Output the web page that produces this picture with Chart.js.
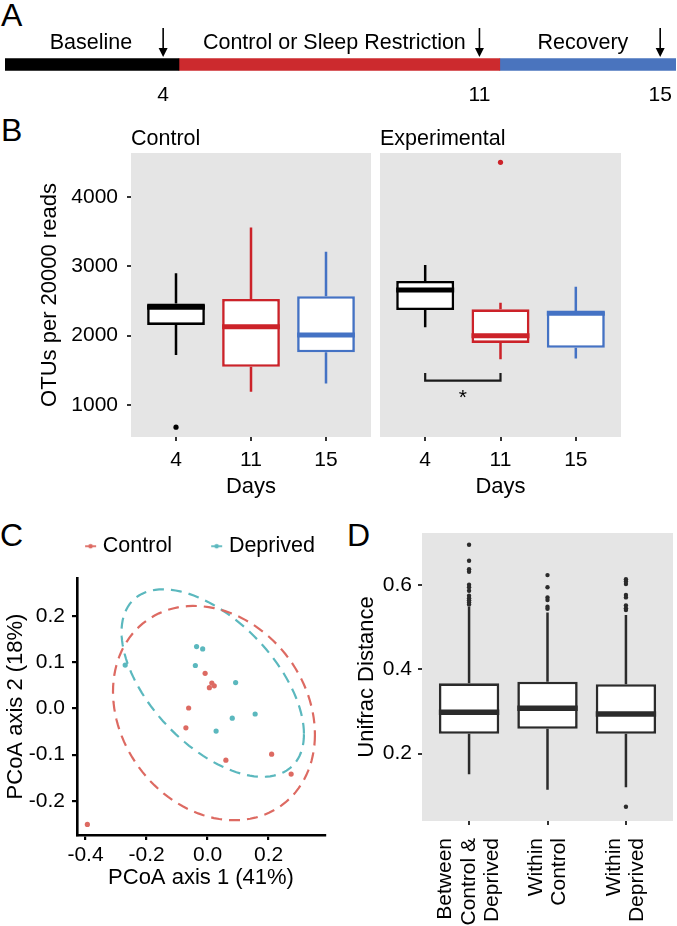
<!DOCTYPE html>
<html>
<head>
<meta charset="utf-8">
<title>Sleep restriction and gut microbiota</title>
<script src="https://cdn.jsdelivr.net/npm/chart.js@4.4.1/dist/chart.umd.min.js"></script>
<style>
  html, body { margin:0; padding:0; background:#ffffff; }
  body { width:677px; height:926px; position:relative; overflow:hidden; font-family:"Liberation Sans", Arial, Helvetica, sans-serif; }
  canvas { position:absolute; }
  .panel-letter { position:absolute; font-size:32px; line-height:32px; color:#000; }
</style>
</head>
<body>
<div class="panel-letter" style="left:1px; top:-1px;">A</div>
<div class="panel-letter" style="left:1px; top:114px;">B</div>
<div class="panel-letter" style="left:0px; top:519px;">C</div>
<div class="panel-letter" style="left:347px; top:519px;">D</div>
<canvas id="chartA" width="677" height="110" style="left:0px; top:0px;"></canvas>
<canvas id="chartB1" width="380" height="400" style="left:0px; top:110px;"></canvas>
<canvas id="chartB2" width="280" height="400" style="left:370px; top:110px;"></canvas>
<canvas id="chartC" width="345" height="410" style="left:0px; top:500px;"></canvas>
<canvas id="chartD" width="337" height="416" style="left:340px; top:510px;"></canvas>
<script>
// ---------------- DATA ----------------
// Panel A: study timeline (days)
const phaseNames  = ['Baseline', 'Control or Sleep Restriction', 'Recovery'];
const phaseStart  = [0.5, 4.35, 11.45];
const phaseEnd    = [4.35, 11.45, 15.35];
const sampleDays  = [4, 11, 15];

// Panel B: OTUs per 20000 reads, by day
const dayLabels = ['4', '11', '15'];
const ctrlMin = [1720, 1190, 1310];
const ctrlQ1  = [2155, 1550, 1760];
const ctrlMed = [2410, 2130, 2010];
const ctrlQ3  = [2465, 2530, 2570];
const ctrlMax = [2900, 3560, 3210];
const ctrlOutDay = [1];
const ctrlOutVal = [680];
const expMin = [2120, 1660, 1670];
const expQ1  = [2370, 1895, 1825];
const expMed = [2660, 2000, 2325];
const expQ3  = [2790, 2380, 2345];
const expMax = [3020, 2475, 2705];
const expOutDay = [2];
const expOutVal = [4500];
const otuTicks = [1000, 2000, 3000, 4000];
const sigPair = [1, 2];
const sigLevel = 1350;
const sigTickTop = 1460;

// Panel C: PCoA coordinates
const controlX  = [-0.008, 0.014, 0.022, 0.006, -0.062, -0.071, 0.060, 0.210, 0.274, -0.394];
const controlY  = [0.076, 0.055, 0.049, 0.045, 0.001, -0.042, -0.112, -0.099, -0.142, -0.251];
const deprivedX = [-0.270, -0.036, -0.016, -0.040, 0.092, 0.028, 0.081, 0.156];
const deprivedY = [0.094, 0.134, 0.129, 0.093, 0.056, -0.049, -0.021, -0.012];
// ellipse: centre x, centre y, half-width, half-height, correlation
const controlEllipse  = [0.021, -0.010, 0.331, 0.232, -0.20];
const deprivedEllipse = [0.017, 0.055, 0.299, 0.203, -0.545];
const pcoaXTicks = [-0.4, -0.2, 0.0, 0.2];
const pcoaYTicks = [-0.2, -0.1, 0.0, 0.1, 0.2];

// Panel D: Unifrac distances
const groupLabels = [['Between', 'Control &', 'Deprived'], ['Within', 'Control'], ['Within', 'Deprived']];
const uniMin = [0.151, 0.114, 0.120];
const uniQ1  = [0.247, 0.259, 0.247];
const uniMed = [0.298, 0.308, 0.294];
const uniQ3  = [0.367, 0.371, 0.365];
const uniMax = [0.549, 0.535, 0.529];
const betweenOut        = [0.696, 0.658, 0.638, 0.632, 0.601, 0.595, 0.587, 0.575, 0.569, 0.564, 0.559, 0.554];
const withinControlOut  = [0.624, 0.595, 0.571, 0.565, 0.549, 0.544];
const withinDeprivedOut = [0.614, 0.609, 0.603, 0.577, 0.571, 0.552, 0.545, 0.541, 0.074];
const unifracTicks = [0.2, 0.4, 0.6];

// ---------------- STYLE ----------------
const FONT = '"Liberation Sans", Arial, Helvetica, sans-serif';
const phaseColors = ['#000000', '#CC2A2E', '#4A74BE'];
const dayColors = ['#000000', '#CC2229', '#4472C4'];
const RED = '#DD6A62';
const TEAL = '#5BB8BE';
const DARK = '#2B2B2B';
const PANEL_BG = '#E5E5E5';

Chart.defaults.font.family = FONT;
Chart.defaults.color = '#000000';
Chart.defaults.animation = false;
Chart.defaults.plugins.legend.display = false;
Chart.defaults.plugins.tooltip.enabled = false;

const panelBg = {
  id: 'panelBg',
  beforeDatasetsDraw(chart, args, opts) {
    if (!opts || !opts.color) return;
    const { ctx, chartArea: a } = chart;
    ctx.save();
    ctx.fillStyle = opts.color;
    ctx.fillRect(a.left, a.top, a.right - a.left, a.bottom - a.top);
    ctx.restore();
  }
};
Chart.register(panelBg);

function whiskerPlugin(st, colors, lw, medLw) {
  return {
    id: 'whiskers',
    afterDatasetsDraw(chart) {
      const { ctx } = chart;
      const ys = chart.scales.y;
      const bars = chart.getDatasetMeta(0).data;
      ctx.save();
      ctx.lineCap = 'butt';
      bars.forEach((bar, i) => {
        const c = colors[i];
        const px = bar.x, hw = bar.width / 2;
        ctx.strokeStyle = c;
        ctx.lineWidth = lw;
        ctx.beginPath();
        ctx.moveTo(px, ys.getPixelForValue(st.q3[i])); ctx.lineTo(px, ys.getPixelForValue(st.max[i]));
        ctx.moveTo(px, ys.getPixelForValue(st.q1[i])); ctx.lineTo(px, ys.getPixelForValue(st.min[i]));
        ctx.stroke();
        const ym = ys.getPixelForValue(st.med[i]);
        ctx.lineWidth = medLw;
        ctx.beginPath(); ctx.moveTo(px - hw, ym); ctx.lineTo(px + hw, ym); ctx.stroke();
      });
      ctx.restore();
    }
  };
}

function tickGrid(len, width, color) {
  return { display: true, drawOnChartArea: false, drawTicks: true, tickLength: len, tickWidth: width, lineWidth: width, tickColor: color, color: color, offset: false };
}

// ---------------- PANEL A ----------------
const timelineMarks = {
  id: 'timelineMarks',
  afterDatasetsDraw(chart) {
    const { ctx } = chart;
    const xs = chart.scales.x;
    const bar = chart.getDatasetMeta(0).data[0];
    const barTop = bar.y - bar.height / 2;
    ctx.save();
    ctx.strokeStyle = '#000'; ctx.fillStyle = '#000'; ctx.lineWidth = 1.6;
    sampleDays.forEach(d => {
      const x = xs.getPixelForValue(d);
      const tip = barTop - 1.5, top = tip - 29;
      ctx.beginPath(); ctx.moveTo(x, top); ctx.lineTo(x, tip - 6); ctx.stroke();
      ctx.beginPath(); ctx.moveTo(x - 4.5, tip - 9); ctx.lineTo(x + 4.5, tip - 9); ctx.lineTo(x, tip); ctx.closePath(); ctx.fill();
    });
    ctx.font = '21.5px ' + FONT;
    ctx.textAlign = 'center'; ctx.textBaseline = 'middle';
    phaseNames.forEach((n, i) => {
      const x = xs.getPixelForValue((phaseStart[i] + phaseEnd[i]) / 2);
      ctx.fillText(n, x - (i > 0 ? 5 : 1), barTop - 15.5);
    });
    ctx.restore();
  }
};

new Chart(document.getElementById('chartA'), {
  type: 'bar',
  data: {
    labels: ['Timeline'],
    datasets: phaseNames.map((n, i) => ({
      label: n, data: [[phaseStart[i], phaseEnd[i]]],
      backgroundColor: phaseColors[i], borderWidth: 0, barThickness: 12, grouped: false
    }))
  },
  options: {
    responsive: false, indexAxis: 'y',
    layout: { padding: { left: 5, right: 1, top: 50, bottom: 0 } },
    scales: {
      x: {
        type: 'linear', min: phaseStart[0], max: phaseEnd[phaseEnd.length - 1],
        afterBuildTicks: s => { s.ticks = sampleDays.map(v => ({ value: v })); },
        ticks: { font: { size: 21 }, padding: 3.5, color: '#000', maxRotation: 0, autoSkip: false, callback: v => String(v) },
        grid: { display: false, drawTicks: false }, border: { display: false },
        afterFit: s => { s.height = 31; }
      },
      y: { display: false }
    }
  },
  plugins: [timelineMarks]
});

// ---------------- PANEL B ----------------
function facetChart(id, st, outDay, outVal, title, showY, padding, extraPlugins) {
  const yAxis = showY ? {
    type: 'linear', min: 538, max: 4635, beginAtZero: false,
    afterBuildTicks: s => { s.ticks = otuTicks.map(v => ({ value: v })); },
    ticks: { font: { size: 21 }, padding: 9, color: '#000', callback: v => String(v) },
    grid: tickGrid(4, 2, '#333333'), border: { display: false },
    title: { display: true, text: 'OTUs per 20000 reads', font: { size: 22 }, color: '#000', padding: { top: 36.8, bottom: 0 } },
    afterFit: s => { s.width = 131; }
  } : { type: 'linear', min: 538, max: 4635, beginAtZero: false, display: false };
  return new Chart(document.getElementById(id), {
    type: 'bar',
    data: {
      datasets: [
        {
          type: 'bar', label: 'box',
          data: st.q1.map((q, i) => ({ x: i + 1, y: [q, st.q3[i]] })),
          backgroundColor: '#ffffff', borderColor: dayColors, borderWidth: 2.6, borderSkipped: false,
          categoryPercentage: 1, barPercentage: 0.77
        },
        {
          type: 'scatter', label: 'outliers',
          data: outDay.map((d, i) => ({ x: d, y: outVal[i] })),
          pointRadius: 2.6, pointBorderWidth: 0,
          pointBackgroundColor: outDay.map(d => dayColors[d - 1])
        }
      ]
    },
    options: {
      responsive: false,
      layout: { padding: padding },
      plugins: {
        panelBg: { color: PANEL_BG },
        title: { display: true, text: title, align: 'start', fullSize: false, color: '#000',
                 font: { size: 21.5, weight: 'normal' }, padding: { top: 16.6, bottom: 0.6 } }
      },
      scales: {
        x: {
          type: 'linear', min: 0.4, max: 3.6, offset: false,
          afterBuildTicks: s => { s.ticks = dayLabels.map((_, i) => ({ value: i + 1 })); },
          ticks: { font: { size: 21 }, padding: 6.4, color: '#000', maxRotation: 0, autoSkip: false,
                   callback: v => dayLabels[Math.round(v) - 1] },
          grid: tickGrid(4, 2, '#333333'), border: { display: false },
          title: { display: true, text: 'Days', font: { size: 22 }, color: '#000', padding: { top: 0, bottom: 9.8 } },
          afterFit: s => { s.height = 73; }
        },
        y: yAxis
      }
    },
    plugins: [whiskerPlugin(st, dayColors, 2.5, 5)].concat(extraPlugins || [])
  });
}

facetChart('chartB1',
  { min: ctrlMin, q1: ctrlQ1, med: ctrlMed, q3: ctrlQ3, max: ctrlMax },
  ctrlOutDay, ctrlOutVal, 'Control', true, { left: 0, right: 9, top: 0, bottom: 0 });

const sigBracket = {
  id: 'sigBracket',
  afterDatasetsDraw(chart) {
    const { ctx } = chart;
    const xs = chart.scales.x, ys = chart.scales.y;
    const x1 = xs.getPixelForValue(sigPair[0]), x2 = xs.getPixelForValue(sigPair[1]);
    const yl = ys.getPixelForValue(sigLevel), yt = ys.getPixelForValue(sigTickTop);
    ctx.save();
    ctx.strokeStyle = '#1A1A1A'; ctx.lineWidth = 2.2; ctx.lineJoin = 'miter';
    ctx.beginPath(); ctx.moveTo(x1, yt); ctx.lineTo(x1, yl); ctx.lineTo(x2, yl); ctx.lineTo(x2, yt); ctx.stroke();
    ctx.fillStyle = '#000'; ctx.font = '21px ' + FONT; ctx.textAlign = 'center'; ctx.textBaseline = 'middle';
    ctx.fillText('*', (x1 + x2) / 2, yl + 17);
    ctx.restore();
  }
};

facetChart('chartB2',
  { min: expMin, q1: expQ1, med: expMed, q3: expQ3, max: expMax },
  expOutDay, expOutVal, 'Experimental', false, { left: 10, right: 29, top: 0, bottom: 0 }, [sigBracket]);

// ---------------- PANEL C ----------------
function ellipsePoints(e) {
  const [cx, cy, hw, hh, rho] = e;
  const phi = Math.acos(rho);
  const pts = [];
  for (let k = 0; k <= 120; k++) {
    const t = k / 120 * 2 * Math.PI;
    pts.push({ x: cx + hw * Math.cos(t), y: cy + hh * Math.cos(t + phi) });
  }
  return pts;
}
function makeKey(color) {
  const c = document.createElement('canvas');
  c.width = 29; c.height = 8;
  const g = c.getContext('2d');
  g.strokeStyle = color; g.lineWidth = 1.8;
  g.beginPath(); g.moveTo(14, 4); g.lineTo(25, 4); g.stroke();
  g.fillStyle = color; g.beginPath(); g.arc(19.5, 4, 2.3, 0, Math.PI * 2); g.fill();
  return c;
}
// keep the legend on one row above the panel and leave ggplot's gap below it
const legendTweak = {
  id: 'legendTweak',
  beforeLayout(chart) {
    const lg = chart.legend;
    if (lg && !lg.$tweaked) {
      const fit = lg.fit.bind(lg);
      lg.fit = function () { this.maxWidth = Math.max(this.maxWidth, 600); fit(); this.height = 75.5; };
      lg.$tweaked = true;
    }
  },
  afterLayout(chart) {
    const lg = chart.legend;
    if (lg) { lg.left -= 155; lg.right += 147; }
  }
};
const keyControl = makeKey(RED), keyDeprived = makeKey(TEAL);

new Chart(document.getElementById('chartC'), {
  type: 'scatter',
  data: {
    datasets: [
      { label: 'Control', data: controlX.map((x, i) => ({ x, y: controlY[i] })), pointRadius: 2.6, pointBorderWidth: 0, pointBackgroundColor: RED },
      { label: 'Deprived', data: deprivedX.map((x, i) => ({ x, y: deprivedY[i] })), pointRadius: 2.6, pointBorderWidth: 0, pointBackgroundColor: TEAL },
      { label: 'Control ellipse', data: ellipsePoints(controlEllipse), showLine: true, borderColor: RED, borderWidth: 2.2, borderDash: [11, 7], pointRadius: 0, tension: 0, fill: false },
      { label: 'Deprived ellipse', data: ellipsePoints(deprivedEllipse), showLine: true, borderColor: TEAL, borderWidth: 2.2, borderDash: [11, 7], pointRadius: 0, tension: 0, fill: false }
    ]
  },
  options: {
    responsive: false,
    layout: { padding: { left: 0, right: 20, top: 2.5, bottom: 0 } },
    plugins: {
      legend: {
        display: true, position: 'top', align: 'center', fullSize: false,
        labels: {
          usePointStyle: true, pointStyleWidth: 13, padding: 33, color: '#000', font: { size: 21.5 },
          generateLabels: () => [
            { text: 'Control', pointStyle: keyControl, fillStyle: RED, strokeStyle: RED, lineWidth: 0, hidden: false, datasetIndex: 0, fontColor: '#000' },
            { text: 'Deprived', pointStyle: keyDeprived, fillStyle: TEAL, strokeStyle: TEAL, lineWidth: 0, hidden: false, datasetIndex: 1, fontColor: '#000' }
          ]
        }
      }
    },
    scales: {
      x: {
        type: 'linear', min: -0.428, max: 0.385,
        afterBuildTicks: s => { s.ticks = pcoaXTicks.map(v => ({ value: v })); },
        ticks: { font: { size: 21 }, padding: 2.4, color: '#000', maxRotation: 0, autoSkip: false, callback: v => v.toFixed(1) },
        grid: tickGrid(5, 2.2, '#000000'),
        border: { display: true, color: '#000000', width: 2.6 },
        title: { display: true, text: 'PCoA axis 1 (41%)', font: { size: 22 }, color: '#000', padding: { top: 0, bottom: 18.8 } },
        afterFit: s => { s.height = 75; }
      },
      y: {
        type: 'linear', min: -0.274, max: 0.2825,
        afterBuildTicks: s => { s.ticks = pcoaYTicks.map(v => ({ value: v })); },
        ticks: { font: { size: 21 }, padding: 7, color: '#000', autoSkip: false, callback: v => v.toFixed(1) },
        grid: tickGrid(5, 2.2, '#000000'),
        border: { display: true, color: '#000000', width: 2.6 },
        title: { display: true, text: 'PCoA axis 2 (18%)', font: { size: 22 }, color: '#000', padding: { top: 2.8, bottom: 0 } },
        afterFit: s => { s.width = 77; }
      }
    }
  },
  plugins: [legendTweak]
});

// ---------------- PANEL D ----------------
const groupLabelPlugin = {
  id: 'groupLabels',
  afterDraw(chart) {
    const { ctx, chartArea } = chart;
    const xs = chart.scales.x;
    ctx.save();
    ctx.font = '21px ' + FONT; ctx.fillStyle = '#000';
    ctx.textAlign = 'right'; ctx.textBaseline = 'middle';
    groupLabels.forEach((lines, i) => {
      const px = xs.getPixelForValue(i + 1);
      const n = lines.length;
      lines.forEach((ln, j) => {
        const lx = px + (j - (n - 1) / 2) * 23.5;
        ctx.save();
        ctx.translate(lx, chartArea.bottom + 17);
        ctx.rotate(-Math.PI / 2);
        ctx.fillText(ln, 0, 0);
        ctx.restore();
      });
    });
    ctx.restore();
  }
};

const uniOutliers = [];
[betweenOut, withinControlOut, withinDeprivedOut].forEach((arr, i) => arr.forEach(v => uniOutliers.push({ x: i + 1, y: v })));
const darkColors = [DARK, DARK, DARK];

new Chart(document.getElementById('chartD'), {
  type: 'bar',
  data: {
    datasets: [
      {
        type: 'bar', label: 'box',
        data: uniQ1.map((q, i) => ({ x: i + 1, y: [q, uniQ3[i]] })),
        backgroundColor: '#ffffff', borderColor: DARK, borderWidth: 2.6, borderSkipped: false,
        categoryPercentage: 1, barPercentage: 0.77
      },
      {
        type: 'scatter', label: 'outliers', data: uniOutliers,
        pointRadius: 2.2, pointBorderWidth: 0, pointBackgroundColor: DARK
      }
    ]
  },
  options: {
    responsive: false,
    layout: { padding: { left: 0, right: 3, top: 23, bottom: 0 } },
    plugins: { panelBg: { color: PANEL_BG } },
    scales: {
      x: {
        type: 'linear', min: 0.4, max: 3.6, offset: false,
        afterBuildTicks: s => { s.ticks = groupLabels.map((_, i) => ({ value: i + 1 })); },
        ticks: { display: false },
        grid: tickGrid(4, 2, '#333333'), border: { display: false },
        afterFit: s => { s.height = 105; }
      },
      y: {
        type: 'linear', min: 0.040, max: 0.724, beginAtZero: false,
        afterBuildTicks: s => { s.ticks = unifracTicks.map(v => ({ value: v })); },
        ticks: { font: { size: 21 }, padding: 6, color: '#000', callback: v => v.toFixed(1) },
        grid: tickGrid(4, 2, '#333333'), border: { display: false },
        title: { display: true, text: 'Unifrac Distance', font: { size: 22 }, color: '#000', padding: { top: 13.8, bottom: 0 } },
        afterFit: s => { s.width = 82; }
      }
    }
  },
  plugins: [whiskerPlugin({ min: uniMin, q1: uniQ1, med: uniMed, q3: uniQ3, max: uniMax }, darkColors, 2.5, 5.5), groupLabelPlugin]
});
</script>
</body>
</html>
